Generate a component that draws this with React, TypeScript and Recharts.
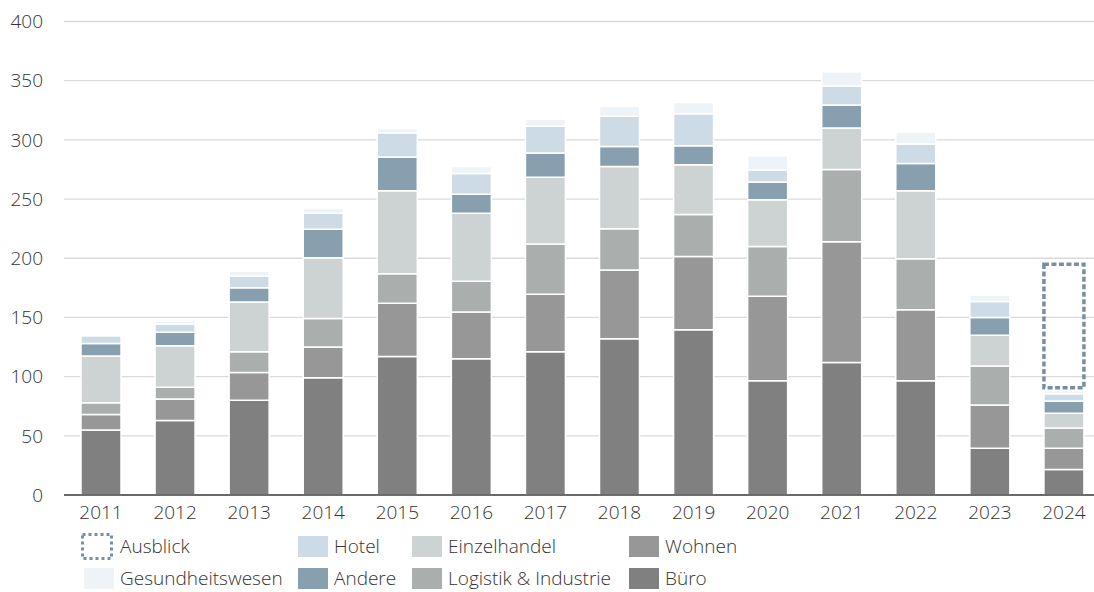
import React from 'react';
import { BarChart, Bar, XAxis, YAxis, CartesianGrid } from 'recharts';

// Transaktionsvolumen je Nutzungsart (Mrd.), 2011–2024
const years = ['2011', '2012', '2013', '2014', '2015', '2016', '2017', '2018', '2019', '2020', '2021', '2022', '2023', '2024'];
const buero = [55, 63, 80, 99, 117, 115, 121, 132, 139.5, 96.5, 112, 96.5, 39.5, 21.5];
const wohnen = [13, 18, 23.5, 26, 45, 39.5, 48.5, 58, 62, 71.5, 102, 60, 36.5, 18];
const logistik = [10, 10, 17.5, 24, 25, 26, 42.5, 35, 35.5, 42, 61, 43, 33, 17];
const einzelhandel = [39.5, 35, 42, 51.5, 70, 57.5, 56.5, 52.5, 42, 39.5, 35, 57.5, 26, 12.5];
const andere = [10.5, 11.5, 12, 24, 28.5, 16, 20.5, 17, 16, 15, 19.5, 23, 15, 10.5];
const hotel = [6.5, 7, 10, 13.5, 20.5, 17.5, 22.5, 25.5, 27, 10, 16, 16.5, 13.5, 6];
const gesundheit = [1, 2.5, 4, 4, 3.5, 6, 6, 8.5, 9.5, 12, 12, 10, 5.5, 2.5];
const ausblick = [null, null, null, null, null, null, null, null, null, null, null, null, null, 107];
const yTicks = [0, 50, 100, 150, 200, 250, 300, 350, 400];

const data = years.map((year, i) => ({
  year,
  buero: buero[i],
  wohnen: wohnen[i],
  logistik: logistik[i],
  einzelhandel: einzelhandel[i],
  andere: andere[i],
  hotel: hotel[i],
  gesundheit: gesundheit[i],
  ausblick: ausblick[i],
}));

const FONT = '"Open Sans", "DejaVu Sans", sans-serif';
const TEXT = '#333333';
const WEIGHT = 300;
const OUTLOOK = '#7690a1';

const series = [
  { key: 'buero', name: 'Büro', color: '#808080' },
  { key: 'wohnen', name: 'Wohnen', color: '#979797' },
  { key: 'logistik', name: 'Logistik & Industrie', color: '#aaafae' },
  { key: 'einzelhandel', name: 'Einzelhandel', color: '#cdd3d3' },
  { key: 'andere', name: 'Andere', color: '#879fae' },
  { key: 'hotel', name: 'Hotel', color: '#cddbe6' },
  { key: 'gesundheit', name: 'Gesundheitswesen', color: '#eef3f8' },
];

// Dashed outline for the outlook segment, sitting slightly above the stack
function OutlookShape(props: any) {
  const { x, y, width, height } = props;
  if (!height || height <= 4) return null;
  return (
    <rect
      x={x}
      y={y}
      width={width}
      height={height - 3}
      fill="none"
      stroke={OUTLOOK}
      strokeWidth={3.5}
      strokeDasharray="5 2.5"
    />
  );
}

const legendItems = [
  { name: 'Ausblick', col: 0, row: 0, outline: true },
  { name: 'Hotel', col: 1, row: 0, color: '#cddbe6' },
  { name: 'Einzelhandel', col: 2, row: 0, color: '#cdd3d3' },
  { name: 'Wohnen', col: 3, row: 0, color: '#979797' },
  { name: 'Gesundheitswesen', col: 0, row: 1, color: '#eef3f8' },
  { name: 'Andere', col: 1, row: 1, color: '#879fae' },
  { name: 'Logistik & Industrie', col: 2, row: 1, color: '#aaafae' },
  { name: 'Büro', col: 3, row: 1, color: '#808080' },
];
const colSwatchX = [84, 298, 412, 629];
const rowTop = [536, 568];

function LegendBlock() {
  return (
    <>
      {legendItems.map((it) => {
        const sx = colSwatchX[it.col];
        const sy = rowTop[it.row];
        return (
          <div key={it.name}>
            {it.outline ? (
              <svg style={{ position: 'absolute', left: sx - 3, top: sy - 3 }} width={36} height={27}>
                <rect x={1.5} y={1.5} width={29} height={24} fill="none" stroke={OUTLOOK} strokeWidth={3} strokeDasharray="3 3" />
              </svg>
            ) : (
              <div style={{ position: 'absolute', left: sx, top: sy, width: 30, height: 21, background: it.color }} />
            )}
            <div
              style={{
                position: 'absolute',
                left: sx + 36,
                top: sy - 3,
                height: 27,
                lineHeight: '27px',
                fontFamily: FONT,
                fontWeight: WEIGHT,
                fontSize: 19,
                color: TEXT,
                whiteSpace: 'nowrap',
              }}
            >
              {it.name}
            </div>
          </div>
        );
      })}
    </>
  );
}

export default function App() {
  return (
    <div
      style={{
        position: 'fixed',
        left: 0,
        top: 0,
        width: 1094,
        height: 592,
        overflow: 'hidden',
        background: '#ffffff',
      }}
    >
      <BarChart
        width={1110}
        height={592}
        data={data}
        margin={{ top: 21.5, right: 9, left: 0, bottom: 0 }}
        barSize={40}
      >
        <CartesianGrid vertical={false} stroke="#d9dbdb" strokeWidth={1.3} />
        <XAxis
          dataKey="year"
          height={97}
          axisLine={{ stroke: '#404040', strokeWidth: 1.5 }}
          tickLine={false}
          tickSize={0}
          tickMargin={11}
          tick={{ fill: TEXT, fontSize: 19, fontFamily: FONT, fontWeight: WEIGHT }}
          interval={0}
        />
        <YAxis
          width={64}
          domain={[0, 400]}
          ticks={yTicks}
          axisLine={false}
          tickLine={false}
          tickSize={0}
          tickMargin={21}
          tick={{ fill: TEXT, fontSize: 19, fontFamily: FONT, fontWeight: WEIGHT }}
          interval={0}
        />
        {series.map((s) => (
          <Bar
            key={s.key}
            dataKey={s.key}
            name={s.name}
            stackId="vol"
            fill={s.color}
            stroke="#ffffff"
            strokeWidth={1.5}
            isAnimationActive={false}
          />
        ))}
        <Bar dataKey="ausblick" name="Ausblick" stackId="vol" shape={<OutlookShape />} isAnimationActive={false} />
      </BarChart>
      <LegendBlock />
    </div>
  );
}
